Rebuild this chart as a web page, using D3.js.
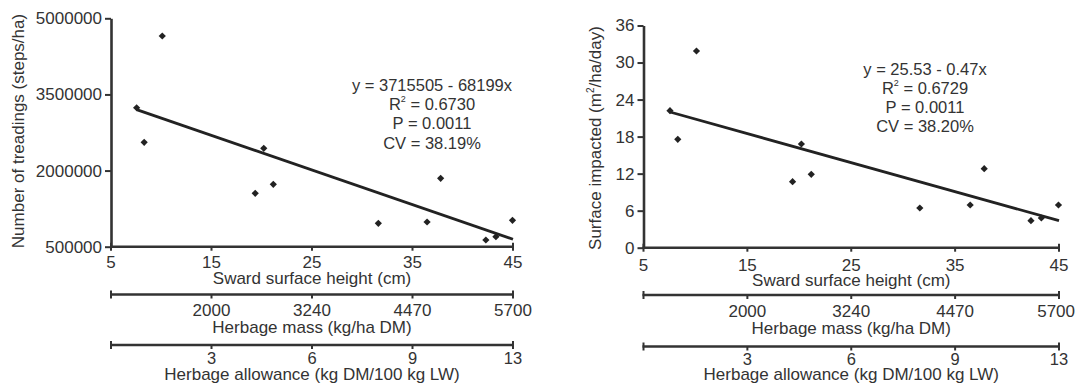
<!DOCTYPE html>
<html>
<head>
<meta charset="utf-8">
<script src="https://cdn.jsdelivr.net/npm/d3@7"></script>
<style>
  html, body { margin: 0; padding: 0; background: #fff; }
  svg { display: block; }
  text { font-family: "Liberation Sans", Arial, sans-serif; fill: #333; }
</style>
</head>
<body>
<svg id="chart" width="1076" height="386"></svg>
<script>
// ---- Data ----
const swardHeight = [7.55, 8.3, 10.1, 19.35, 20.2, 21.15, 31.6, 36.45, 37.8, 42.3, 43.3, 44.95];
const treadings = [3238000, 2557000, 4651000, 1552000, 2439000, 1729000, 961000, 987000, 1848000, 632000, 697000, 1020000];
const surfaceImpacted = [22.2, 17.56, 31.87, 10.69, 16.8, 11.89, 6.43, 6.92, 12.8, 4.37, 4.81, 6.92];

const swardTicks = [5, 15, 25, 35, 45];
const herbageMassLabels = ["", "2000", "3240", "4470", "5700"];
const herbageAllowanceLabels = ["", "3", "6", "9", "13"];

const treadTicks = [500000, 2000000, 3500000, 5000000];
const surfaceTicks = [0, 6, 12, 18, 24, 30, 36];

// regression coefficients [intercept, slope]
const treadFit = [3715505, -68199];
const surfaceFit = [25.53, -0.47];

const treadStats = ["y = 3715505 - 68199x", "R|2| = 0.6730", "P = 0.0011", "CV = 38.19%"];
const surfaceStats = ["y = 25.53 - 0.47x", "R|2| = 0.6729", "P = 0.0011", "CV = 38.20%"];

const svg = d3.select("#chart");
const INK = "#333";
const FS = 17;
const W = 1076;

function panel(cfg) {
  const g = svg.append("g");
  const x = d3.scaleLinear().domain([5, 45]).range([cfg.x0, cfg.x1]);
  const y = d3.scaleLinear().domain(cfg.yDomain).range([cfg.yBottom, cfg.yTop]);

  // y axis
  const ya = g.append("g").attr("transform", `translate(${cfg.x0},0)`)
    .call(d3.axisLeft(y).tickValues(cfg.yTicks).tickSize(6).tickSizeOuter(0).tickPadding(3).tickFormat(d3.format("d")));
  ya.select(".domain").attr("stroke", INK).attr("stroke-width", 2.6);
  ya.selectAll(".tick line").attr("stroke", INK).attr("stroke-width", 2);
  ya.selectAll(".tick text").attr("font-size", FS).attr("fill", INK)
    .attr("font-family", "Liberation Sans, Arial, sans-serif");

  // a scale-like row axis (line with ticks + labels)
  function rowAxis(yLine, labels, labelBase, title, titleBase, lfs) {
    const a = g.append("g");
    a.append("line").attr("x1", x(5) - 1).attr("x2", x(45) + 1)
      .attr("y1", yLine).attr("y2", yLine).attr("stroke", INK).attr("stroke-width", 2.6);
    a.selectAll("line.tk").data(swardTicks).join("line").attr("class", "tk")
      .attr("x1", d => x(d)).attr("x2", d => x(d))
      .attr("y1", (d, i) => (i === 0 || i === swardTicks.length - 1) ? yLine - 4 : yLine)
      .attr("y2", yLine + 4).attr("stroke", INK).attr("stroke-width", 2);
    a.selectAll("text.lb").data(swardTicks).join("text").attr("class", "lb")
      .attr("x", d => x(d)).attr("y", labelBase).attr("text-anchor", "middle")
      .attr("font-size", lfs || FS).text((d, i) => labels[i])
      .each(function () {
        const bb = this.getBBox();
        if (bb.x + bb.width > W - 1) {
          d3.select(this).attr("x", +d3.select(this).attr("x") - (bb.x + bb.width - (W - 1)));
        }
      });
    a.append("text").attr("x", (x(5) + x(45)) / 2).attr("y", titleBase)
      .attr("text-anchor", "middle").attr("font-size", FS).text(title);
  }
  rowAxis(cfg.yBottom, swardTicks.map(String), cfg.r1Label, "Sward surface height (cm)", cfg.r1Title);
  rowAxis(cfg.r2Line, herbageMassLabels, cfg.r2Label, "Herbage mass (kg/ha DM)", cfg.r2Title);
  rowAxis(cfg.r3Line, herbageAllowanceLabels, cfg.r3Label, "Herbage allowance (kg DM/100 kg LW)", cfg.r3Title, 16.5);

  // y title
  const yt = g.append("text")
    .attr("transform", `translate(${cfg.yTitleX},${cfg.yTitleY}) rotate(-90)`)
    .attr("text-anchor", "middle").attr("font-size", FS);
  cfg.yTitle.forEach(p => {
    const ts = yt.append("tspan").text(p.t);
    if (p.sup) ts.attr("font-size", 10).attr("dy", -7);
    if (p.after) ts.attr("dy", 7);
  });

  // regression line
  const xs = [d3.min(cfg.xs), 45];
  g.append("path")
    .datum(xs.map(v => [v, cfg.fit[0] + cfg.fit[1] * v]))
    .attr("d", d3.line().x(d => x(d[0])).y(d => y(d[1])))
    .attr("stroke", "#222").attr("stroke-width", 2.8).attr("fill", "none");

  // points
  const sym = d3.symbol().type(d3.symbolSquare).size(26);
  g.selectAll("path.pt").data(cfg.xs.map((v, i) => [v, cfg.ys[i]])).join("path")
    .attr("class", "pt")
    .attr("transform", d => `translate(${x(d[0])},${y(d[1])}) rotate(45)`)
    .attr("d", sym).attr("fill", "#222");

  // stats text
  cfg.stats.forEach((s, i) => {
    const t = g.append("text").attr("x", cfg.statX).attr("y", cfg.statY + i * cfg.statDy)
      .attr("text-anchor", "middle").attr("font-size", 16.5);
    const parts = s.split("|");
    if (parts.length === 3) {
      t.append("tspan").text(parts[0]);
      t.append("tspan").text(parts[1]).attr("font-size", 9).attr("dy", -8);
      t.append("tspan").text(parts[2]).attr("dy", 8);
    } else {
      t.text(s);
    }
  });
}

panel({
  x0: 111, x1: 513, yTop: 18.3, yBottom: 246.7,
  yDomain: [500000, 5000000], yTicks: treadTicks,
  xs: swardHeight, ys: treadings, fit: treadFit, stats: treadStats,
  statX: 432, statY: 91, statDy: 19.2,
  r1Label: 267.5, r1Title: 284, r2Line: 294.5, r2Label: 315.5, r2Title: 333,
  r3Line: 345, r3Label: 364, r3Title: 379.5,
  yTitleX: 24, yTitleY: 131,
  yTitle: [{t: "Number of treadings (steps/ha)"}]
});

panel({
  x0: 643.5, x1: 1059, yTop: 25.5, yBottom: 247.7,
  yDomain: [0, 36], yTicks: surfaceTicks,
  xs: swardHeight, ys: surfaceImpacted, fit: surfaceFit, stats: surfaceStats,
  statX: 925, statY: 74.5, statDy: 19.2,
  r1Label: 271, r1Title: 285.5, r2Line: 295, r2Label: 317, r2Title: 334,
  r3Line: 346.5, r3Label: 364.5, r3Title: 380,
  yTitleX: 601, yTitleY: 138,
  yTitle: [{t: "Surface impacted (m"}, {t: "2", sup: true}, {t: "/ha/day)", after: true}]
});
</script>
</body>
</html>
